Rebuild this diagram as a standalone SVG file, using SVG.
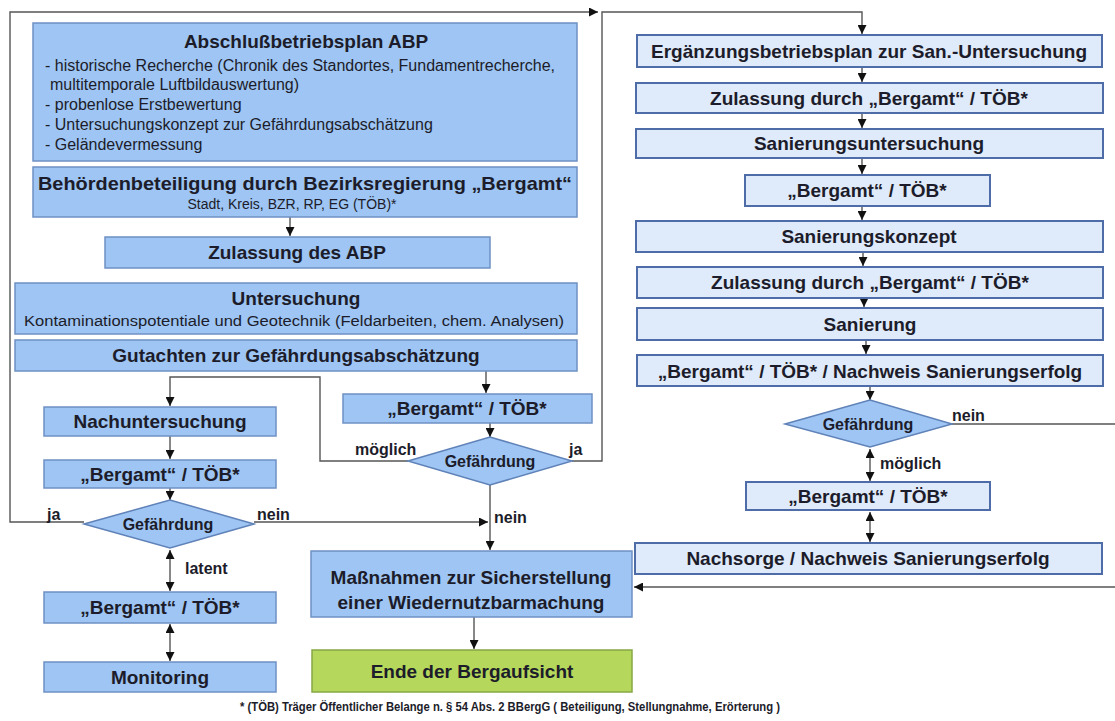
<svg xmlns="http://www.w3.org/2000/svg" width="1115" height="721" viewBox="0 0 1115 721">
<defs>
<marker id="ah" viewBox="0 0 10 10" refX="10" refY="5" markerWidth="9" markerHeight="9" markerUnits="userSpaceOnUse" orient="auto-start-reverse">
<path d="M0,0 L10,5 L0,10 z" fill="#111"/>
</marker>
<style>
.lb{fill:#9ec5f3;stroke:#6f90c4;stroke-width:1.5}
.rb{fill:#dfeafa;stroke:#4d6ca8;stroke-width:2}
.gb{fill:#b5d75c;stroke:#86a846;stroke-width:1.5}
.dm{fill:#9ec5f3;stroke:#5f82b8;stroke-width:1.5}
text{font-family:"Liberation Sans",Arial,sans-serif;fill:#1c1c2a}
.t{font-size:19px;font-weight:bold;text-anchor:middle}
.s{font-size:16px}
.sc{font-size:14px;text-anchor:middle}
.d{font-size:16px;font-weight:bold;text-anchor:middle}
.l{font-size:16px;font-weight:bold}
.c{fill:none;stroke:#555;stroke-width:1.4}
.ca{fill:none;stroke:#555;stroke-width:1.4;marker-end:url(#ah)}
.cd{fill:none;stroke:#555;stroke-width:1.4;marker-end:url(#ah);marker-start:url(#ah)}
</style>
</defs>
<rect width="1115" height="721" fill="#fff"/>

<g id="connectors">
<path class="ca" d="M84,522 H10 V12 H598"/>
<path class="ca" d="M572,461 H602 V12 H862 V34"/>
<path class="ca" d="M290,217 V236"/>
<path class="ca" d="M486,371 V393"/>
<path class="ca" d="M490,423 V437"/>
<path class="ca" d="M408,461 H320 V377 H170 V406"/>
<path class="ca" d="M490,485 V550"/>
<path class="ca" d="M170,436 V459"/>
<path class="ca" d="M170,488 V500"/>
<path class="ca" d="M254,522 H488"/>
<path class="cd" d="M170,550 V591"/>
<path class="cd" d="M170,624 V661"/>
<path class="ca" d="M474,617 V649"/>
<path class="ca" d="M862,67 V82"/>
<path class="ca" d="M862,113 V128"/>
<path class="ca" d="M862,158 V174"/>
<path class="ca" d="M862,206 V220"/>
<path class="ca" d="M863,252 V266"/>
<path class="ca" d="M864,298 V307"/>
<path class="ca" d="M866,340 V354"/>
<path class="ca" d="M870,386 V400"/>
<path class="ca" d="M950,424 H1120 V587 H634"/>
<path class="cd" d="M870,449 V481"/>
<path class="cd" d="M870,512 V542"/>
</g>

<g id="labels">
<text class="l" x="355" y="455">möglich</text>
<text class="l" x="569" y="455">ja</text>
<text class="l" x="494" y="523">nein</text>
<text class="l" x="47" y="520">ja</text>
<text class="l" x="257" y="520">nein</text>
<text class="l" x="185" y="574">latent</text>
<text class="l" x="952" y="421">nein</text>
<text class="l" x="880" y="469">möglich</text>
</g>

<g id="abp">
<rect class="lb" x="33" y="23" width="544" height="138"/>
<text class="t" x="306" y="48">Abschlußbetriebsplan ABP</text>
<text class="s" x="45" y="71" textLength="510" lengthAdjust="spacing">- historische Recherche (Chronik des Standortes, Fundamentrecherche,</text>
<text class="s" x="50" y="90">multitemporale Luftbildauswertung)</text>
<text class="s" x="45" y="110">- probenlose Erstbewertung</text>
<text class="s" x="45" y="130">- Untersuchungskonzept zur Gefährdungsabschätzung</text>
<text class="s" x="45" y="150">- Geländevermessung</text>
</g>

<g id="behoerden">
<rect class="lb" x="33" y="167" width="544" height="50"/>
<text class="t" x="305" y="190" textLength="534" lengthAdjust="spacingAndGlyphs">Behördenbeteiligung durch Bezirksregierung „Bergamt“</text>
<text class="sc" x="292" y="209">Stadt, Kreis, BZR, RP, EG (TÖB)*</text>
</g>

<g id="zulassung-abp">
<rect class="lb" x="105" y="237" width="385" height="31"/>
<text class="t" x="297" y="259">Zulassung des ABP</text>
</g>

<g id="untersuchung">
<rect class="lb" x="15" y="283" width="562" height="51"/>
<text class="t" x="296" y="305">Untersuchung</text>
<text class="sc" x="294" y="326" textLength="540" lengthAdjust="spacingAndGlyphs">Kontaminationspotentiale und Geotechnik (Feldarbeiten, chem. Analysen)</text>
</g>

<g id="gutachten">
<rect class="lb" x="15" y="340" width="562" height="31"/>
<text class="t" x="296" y="362">Gutachten zur Gefährdungsabschätzung</text>
</g>

<g id="bergamt-mid">
<rect class="lb" x="343" y="394" width="249" height="29"/>
<text class="t" x="467" y="415">„Bergamt“ / TÖB*</text>
</g>

<g id="gefaehrdung-mid">
<polygon class="dm" points="408,461 490,437 572,461 490,485"/>
<text class="d" x="490" y="467">Gefährdung</text>
</g>

<g id="nachuntersuchung">
<rect class="lb" x="44" y="407" width="232" height="29"/>
<text class="t" x="160" y="428">Nachuntersuchung</text>
</g>

<g id="bergamt-left1">
<rect class="lb" x="44" y="460" width="232" height="28"/>
<text class="t" x="160" y="481">„Bergamt“ / TÖB*</text>
</g>

<g id="gefaehrdung-left">
<polygon class="dm" points="84,524 170,500 254,524 170,548"/>
<text class="d" x="168" y="530">Gefährdung</text>
</g>

<g id="bergamt-left2">
<rect class="lb" x="44" y="592" width="232" height="31"/>
<text class="t" x="160" y="614">„Bergamt“ / TÖB*</text>
</g>

<g id="monitoring">
<rect class="lb" x="44" y="662" width="232" height="30"/>
<text class="t" x="160" y="684">Monitoring</text>
</g>

<g id="massnahmen">
<rect class="lb" x="311" y="551" width="321" height="66"/>
<text class="t" x="471" y="584">Maßnahmen zur Sicherstellung</text>
<text class="t" x="471" y="609">einer Wiedernutzbarmachung</text>
</g>

<g id="ende">
<rect class="gb" x="312" y="650" width="320" height="42"/>
<text class="t" x="472" y="678">Ende der Bergaufsicht</text>
</g>

<g id="ergaenzung">
<rect class="rb" x="637" y="35" width="465" height="32"/>
<text class="t" x="869" y="58">Ergänzungsbetriebsplan zur San.-Untersuchung</text>
</g>

<g id="zulassung1">
<rect class="rb" x="636" y="83" width="467" height="30"/>
<text class="t" x="869" y="105">Zulassung durch „Bergamt“ / TÖB*</text>
</g>

<g id="sanierungsuntersuchung">
<rect class="rb" x="636" y="129" width="467" height="29"/>
<text class="t" x="869" y="150">Sanierungsuntersuchung</text>
</g>

<g id="bergamt-r1">
<rect class="rb" x="745" y="175" width="245" height="31"/>
<text class="t" x="867" y="197">„Bergamt“ / TÖB*</text>
</g>

<g id="sanierungskonzept">
<rect class="rb" x="636" y="221" width="467" height="31"/>
<text class="t" x="869" y="243">Sanierungskonzept</text>
</g>

<g id="zulassung2">
<rect class="rb" x="637" y="267" width="466" height="31"/>
<text class="t" x="870" y="289">Zulassung durch „Bergamt“ / TÖB*</text>
</g>

<g id="sanierung">
<rect class="rb" x="637" y="308" width="466" height="32"/>
<text class="t" x="870" y="331">Sanierung</text>
</g>

<g id="nachweis">
<rect class="rb" x="637" y="355" width="466" height="31"/>
<text class="t" x="870" y="378">„Bergamt“ / TÖB* / Nachweis Sanierungserfolg</text>
</g>

<g id="gefaehrdung-right">
<polygon class="dm" points="785,424 870,400 952,424 870,447"/>
<text class="d" x="868" y="430">Gefährdung</text>
</g>

<g id="bergamt-r2">
<rect class="rb" x="746" y="482" width="244" height="28"/>
<text class="t" x="868" y="503">„Bergamt“ / TÖB*</text>
</g>

<g id="nachsorge">
<rect class="rb" x="635" y="543" width="467" height="31"/>
<text class="t" x="868" y="565">Nachsorge / Nachweis Sanierungserfolg</text>
</g>

<g id="footnote">
<text x="510" y="711" font-size="13" font-weight="bold" text-anchor="middle" textLength="540" lengthAdjust="spacingAndGlyphs">* (TÖB) Träger Öffentlicher Belange n. § 54 Abs. 2 BBergG ( Beteiligung, Stellungnahme, Erörterung )</text>
</g>
</svg>
